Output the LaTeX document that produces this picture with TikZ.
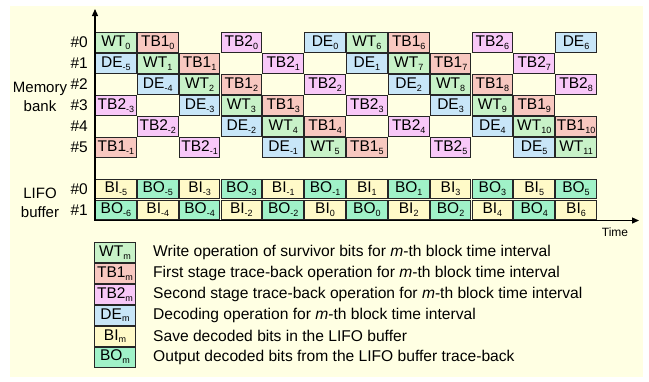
\documentclass[tikz,border=0pt]{standalone}
\usepackage{fontspec}
\setmainfont{Liberation Sans}
\usetikzlibrary{arrows.meta}
\definecolor{bg}{HTML}{FFFFE3}
\definecolor{cW}{HTML}{C8F2C8}
\definecolor{cA}{HTML}{F8C8C0}
\definecolor{cB}{HTML}{F8C8F8}
\definecolor{cD}{HTML}{C8E6F8}
\definecolor{cI}{HTML}{FFFAC8}
\definecolor{cO}{HTML}{A0F2C8}
\newcommand\labW{WT}
\newcommand\labA{TB1}
\newcommand\labB{TB2}
\newcommand\labD{DE}
\newcommand\labI{BI}
\newcommand\labO{BO}
\newcommand\subx[1]{\raisebox{-0.35ex}{\fontsize{9}{9}\selectfont #1}}
\tikzset{
  cell/.style={draw=black!85, line width=1pt, minimum width=40.6pt, minimum height=19.8pt,
    inner sep=0pt, font=\fontsize{15.5}{15.5}\selectfont},
  rowlab/.style={anchor=east, inner sep=0pt, font=\fontsize{15.5}{15.5}\selectfont},
  sidelab/.style={align=center, inner sep=0pt, font=\fontsize{15}{19}\selectfont},
  legtext/.style={anchor=west, inner sep=0pt, font=\fontsize{15.6}{15.6}\selectfont},
  axis/.style={line width=1.3pt, -{Triangle[length=7pt,width=6pt]}}
}
% #1 = prefix, #2 = row index, #3 = top y, #4 = list
\newcommand\cellrow[4]{%
  \foreach \t/\m [count=\k from 0] in {#4}{%
    \if\t N\else
      \node[cell, fill=c\t] (#1#2-\k) at ({95+41.83*(\k+0.5)}, {#3+10.5}) {\csname lab\t\endcsname\subx{\m}};
    \fi}}
\begin{document}
\begin{tikzpicture}[x=1pt, y=-1pt]
\useasboundingbox (0,0) rectangle (649,381);
\fill[bg] (10,6) rectangle (643,377);

% memory bank rows
\cellrow{m}{0}{32}{W/0,A/0,N/x,B/0,N/x,D/0,W/6,A/6,N/x,B/6,N/x,D/6}
\cellrow{m}{1}{53}{D/-5,W/1,A/1,N/x,B/1,N/x,D/1,W/7,A/7,N/x,B/7,N/x}
\cellrow{m}{2}{74}{N/x,D/-4,W/2,A/2,N/x,B/2,N/x,D/2,W/8,A/8,N/x,B/8}
\cellrow{m}{3}{95}{B/-3,N/x,D/-3,W/3,A/3,N/x,B/3,N/x,D/3,W/9,A/9,N/x}
\cellrow{m}{4}{116}{N/x,B/-2,N/x,D/-2,W/4,A/4,N/x,B/4,N/x,D/4,W/10,A/10}
\cellrow{m}{5}{137}{A/-1,N/x,B/-1,N/x,D/-1,W/5,A/5,N/x,B/5,N/x,D/5,W/11}
% LIFO rows
\cellrow{l}{0}{178.5}{I/-5,O/-5,I/-3,O/-3,I/-1,O/-1,I/1,O/1,I/3,O/3,I/5,O/5}
\cellrow{l}{1}{199.5}{O/-6,I/-4,O/-4,I/-2,O/-2,I/0,O/0,I/2,O/2,I/4,O/4,I/6}

% axes
\coordinate (origin) at (95,220.5);
\coordinate (ytip) at (95,9);
\coordinate (xtip) at (639,220.5);
\draw[axis] (origin) -- (ytip);
\draw[axis] (origin) -- (xtip);
\node[inner sep=0pt, font=\fontsize{12}{12}\selectfont] (time) at (615,232) {Time};

% row labels
\foreach \i in {0,...,5}{
  \node[rowlab] (bank\i) at (88, {42.5+21*\i}) {\#\i};
}
\node[rowlab] (lifo0) at (88, 189) {\#0};
\node[rowlab] (lifo1) at (88, 210) {\#1};
\node[sidelab] (memlab) at (40, 96.5) {Memory\\bank};
\node[sidelab] (lifolab) at (40, 202.5) {LIFO\\buffer};

% legend
\foreach \t/\txt [count=\i from 0] in {
  W/{Write operation of survivor bits for \textit{m}-th block time interval},
  A/{First stage trace-back operation for \textit{m}-th block time interval},
  B/{Second stage trace-back operation for \textit{m}-th block time interval},
  D/{Decoding operation for \textit{m}-th block time interval},
  I/{Save decoded bits in the LIFO buffer},
  O/{Output decoded bits from the LIFO buffer trace-back}}{
  \node[cell, fill=c\t, minimum width=41pt, minimum height=20pt] (leg\i) at (115, {252.5+20.9*\i}) {\csname lab\t\endcsname\subx{m}};
  \node[legtext] (legt\i) at (153, {252.5+20.9*\i}) {\txt};
}
\end{tikzpicture}
\end{document}
